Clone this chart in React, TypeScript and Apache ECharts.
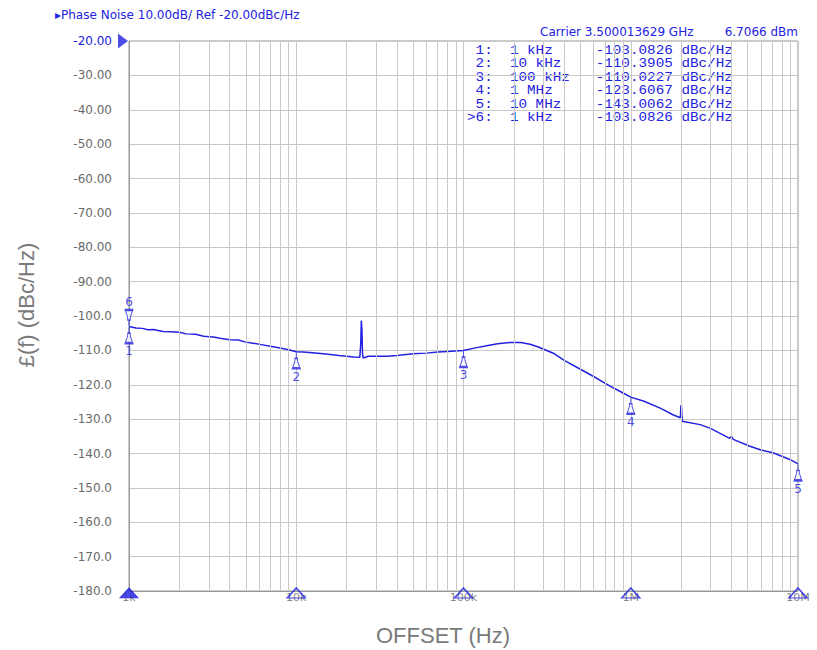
import React, { useEffect, useRef } from "react";
import * as echarts from "echarts";

// ---- data ----
const traceFreqs = [
  1000, 1100, 1200, 1300, 1400, 1600, 1800, 2000, 2200, 2500, 2800, 3200, 3500, 4000, 4500, 5000, 5500, 6300, 7000, 8000, 9000,
  10000, 11000, 12500, 14000, 16000, 18000, 20000, 22000, 24000, 24300, 24500, 24700, 24900, 25100, 27000, 30000, 35000, 40000,
  50000, 60000, 70000, 80000, 100000, 120000, 140000, 160000, 190000, 220000, 250000, 280000, 350000, 400000, 500000, 600000,
  700000, 800000, 900000, 1000000, 1200000, 1500000, 1800000, 1980000, 1995000, 2010000, 2030000, 2600000, 3000000, 3900000,
  4000000, 4100000, 5160000, 6000000, 7080000, 8000000, 9000000, 10000000,
];
const traceValues = [
  -103.08, -103.5, -103.6, -104.0, -103.9, -104.5, -104.6, -104.7, -105.2, -105.3, -105.9, -106.1, -106.5, -106.9, -107.0, -107.6,
  -107.9, -108.4, -108.8, -109.3, -109.8, -110.39, -110.5, -110.7, -110.9, -111.2, -111.5, -111.7, -111.9, -112.0, -108.0,
  -101.3, -104.0, -111.0, -112.2, -111.7, -111.7, -111.7, -111.5, -111.0, -110.8, -110.5, -110.3, -110.02, -109.2, -108.6,
  -108.1, -107.7, -107.7, -108.2, -109.0, -111.0, -112.9, -115.5, -117.6, -119.5, -121.1, -122.4, -123.6, -124.8, -126.8,
  -128.8, -129.6, -126.0, -126.2, -130.6, -131.6, -132.7, -135.6, -135.0, -135.9, -137.9, -139.0, -139.8, -140.8, -141.8, -143.0,
];

const markerIds = ["1", "2", "3", "4", "5", "6"];
const markerFreqs = [1000, 10000, 100000, 1000000, 10000000, 1000];
const markerFreqLabels = ["1 kHz", "10 kHz", "100 kHz", "1 MHz", "10 MHz", "1 kHz"];
const markerValues = [-103.0826, -110.3905, -110.0227, -123.6067, -143.0062, -103.0826];
const activeMarker = "6";

const xTickFreqs = [1000, 10000, 100000, 1000000, 10000000];
const xTickLabels = ["1k", "10k", "100k", "1M", "10M"];
const minorMultipliers = [2, 3, 4, 5, 6, 7, 8, 9];

const titleText = "\u25B8Phase Noise 10.00dB/ Ref -20.00dBc/Hz";
const carrierText = "Carrier 3.500013629 GHz";
const powerText = "6.7066 dBm";
const yAxisName = "\u00A3(f) (dBc/Hz)";
const xAxisName = "OFFSET (Hz)";
const refLevel = -20;

const BLUE = "#2222e0";
const GRAY_TEXT = "#6a6a6a";
const GRID = "#c8c8c8";

const shapeDown =
  "path://M5,0 L5,6 M3.5,6 L6.5,6 L6.5,9 L9,16 L1,16 L3.5,9 Z M0,17 L10,17";
const shapeUp =
  "path://M5,17 L5,11 M3.5,11 L6.5,11 L6.5,8 L9,1 L1,1 L3.5,8 Z M0,0 L10,0";

export default function App() {
  const ref = useRef<HTMLDivElement>(null);
  useEffect(() => {
    if (!ref.current) return;
    const chart = echarts.init(ref.current, null, { renderer: "svg" });

    const traceData = traceFreqs.map((f, i) => [f, traceValues[i]]);
    const minorGrid: number[] = [];
    xTickFreqs.slice(0, -1).forEach((d) => minorMultipliers.forEach((m) => minorGrid.push(d * m)));

    const markerData = markerIds.map((id, i) => {
      const up = id === activeMarker;
      return {
        value: [markerFreqs[i], markerValues[i]],
        symbol: up ? shapeUp : shapeDown,
        symbolOffset: [0, up ? -9 : 9],
        label: { position: up ? "top" : "bottom", formatter: id },
      };
    });

    const tableRows = markerIds.map((id, i) => {
      const prefix = id === activeMarker ? ">" : " ";
      return prefix + id + ":  " + markerFreqLabels[i].padEnd(10) + markerValues[i].toFixed(4) + " dBc/Hz";
    });

    const tableGraphics = tableRows.map((row, i) => ({
      type: "text",
      x: 467,
      y: 50.7 + i * 13.4,
      scaleX: 1.1,
      style: { text: row, fill: BLUE, font: "13px 'Liberation Mono'", verticalAlign: "middle" },
    }));

    chart.setOption({
      animation: false,
      backgroundColor: "#ffffff",
      grid: { left: 129, right: 19, top: 41, bottom: 59, show: true, borderColor: "#999", borderWidth: 1 },
      xAxis: {
        type: "log",
        logBase: 10,
        min: 1000,
        max: 10000000,
        axisLine: { show: true, lineStyle: { color: "#999", width: 1 } },
        axisTick: { show: false },
        splitLine: { show: true, lineStyle: { color: GRID, width: 1 } },
        axisLabel: {
          margin: 1,
          fontSize: 11,
          fontFamily: "DejaVu Sans",
          color: "#888",
          formatter: (v: number) => xTickLabels[Math.round(Math.log10(v)) - 3] ?? "",
        },
      },
      yAxis: {
        type: "value",
        min: -180,
        max: -20,
        interval: 10,
        axisLine: { show: true, lineStyle: { color: "#999", width: 1 } },
        axisTick: { show: false },
        splitLine: { show: true, lineStyle: { color: GRID, width: 1 } },
        axisLabel: {
          margin: 17,
          fontSize: 12,
          fontFamily: "DejaVu Sans",
          color: (v: any) => (Number(v) === refLevel ? BLUE : GRAY_TEXT),
          formatter: (v: number) => v.toPrecision(4),
        },
      },
      series: [
        {
          type: "line",
          data: [],
          z: 1,
          silent: true,
          markLine: {
            silent: true,
            symbol: "none",
            label: { show: false },
            lineStyle: { color: GRID, width: 1, type: "solid" },
            data: minorGrid.map((f) => ({ xAxis: f })),
          },
        },
        {
          type: "line",
          data: traceData,
          z: 3,
          showSymbol: false,
          lineStyle: { color: BLUE, width: 1.5 },
          itemStyle: { color: BLUE },
        },
        {
          type: "scatter",
          data: markerData,
          z: 4,
          clip: false,
          symbolSize: [9, 16],
          itemStyle: { color: "#ffffff", borderColor: BLUE, borderWidth: 1.2 },
          label: { show: true, color: BLUE, fontSize: 12, fontFamily: "DejaVu Sans", distance: 1 },
        },
        {
          type: "scatter",
          z: 4,
          clip: false,
          symbol: "triangle",
          symbolSize: [18, 10],
          symbolOffset: [0, 2],
          data: xTickFreqs.map((f, i) => ({
            value: [f, -180],
            itemStyle:
              i === 0
                ? { color: BLUE, borderColor: BLUE, borderWidth: 1 }
                : { color: "rgba(255,255,255,0)", borderColor: BLUE, borderWidth: 1.5 },
          })),
        },
        {
          type: "scatter",
          z: 4,
          clip: false,
          symbol: "triangle",
          symbolSize: [15, 10],
          symbolRotate: -90,
          symbolOffset: [-6, 0],
          itemStyle: { color: BLUE },
          data: [[1000, refLevel]],
        },
      ],
      graphic: [
        {
          type: "text",
          left: 55,
          top: 9,
          style: { text: titleText, fill: BLUE, font: "12px 'DejaVu Sans'" },
        },
        {
          type: "text",
          left: 540,
          top: 26,
          style: { text: carrierText, fill: BLUE, font: "12px 'DejaVu Sans'" },
        },
        {
          type: "text",
          right: 19,
          top: 26,
          style: { text: powerText, fill: BLUE, font: "12px 'DejaVu Sans'" },
        },
        ...tableGraphics,
        {
          type: "text",
          x: 26,
          y: 305,
          rotation: Math.PI / 2,
          style: {
            text: yAxisName,
            fill: "#7a7a7a",
            font: "22px 'Liberation Sans'",
            align: "center",
            verticalAlign: "middle",
          },
        },
        {
          type: "text",
          x: 443,
          y: 635,
          style: {
            text: xAxisName,
            fill: "#7a7a7a",
            font: "22px 'Liberation Sans'",
            align: "center",
            verticalAlign: "middle",
          },
        },
      ],
    });
    return () => chart.dispose();
  }, []);
  return <div ref={ref} style={{ position: "fixed", left: 0, top: 0, width: 817, height: 650 }} />;
}
